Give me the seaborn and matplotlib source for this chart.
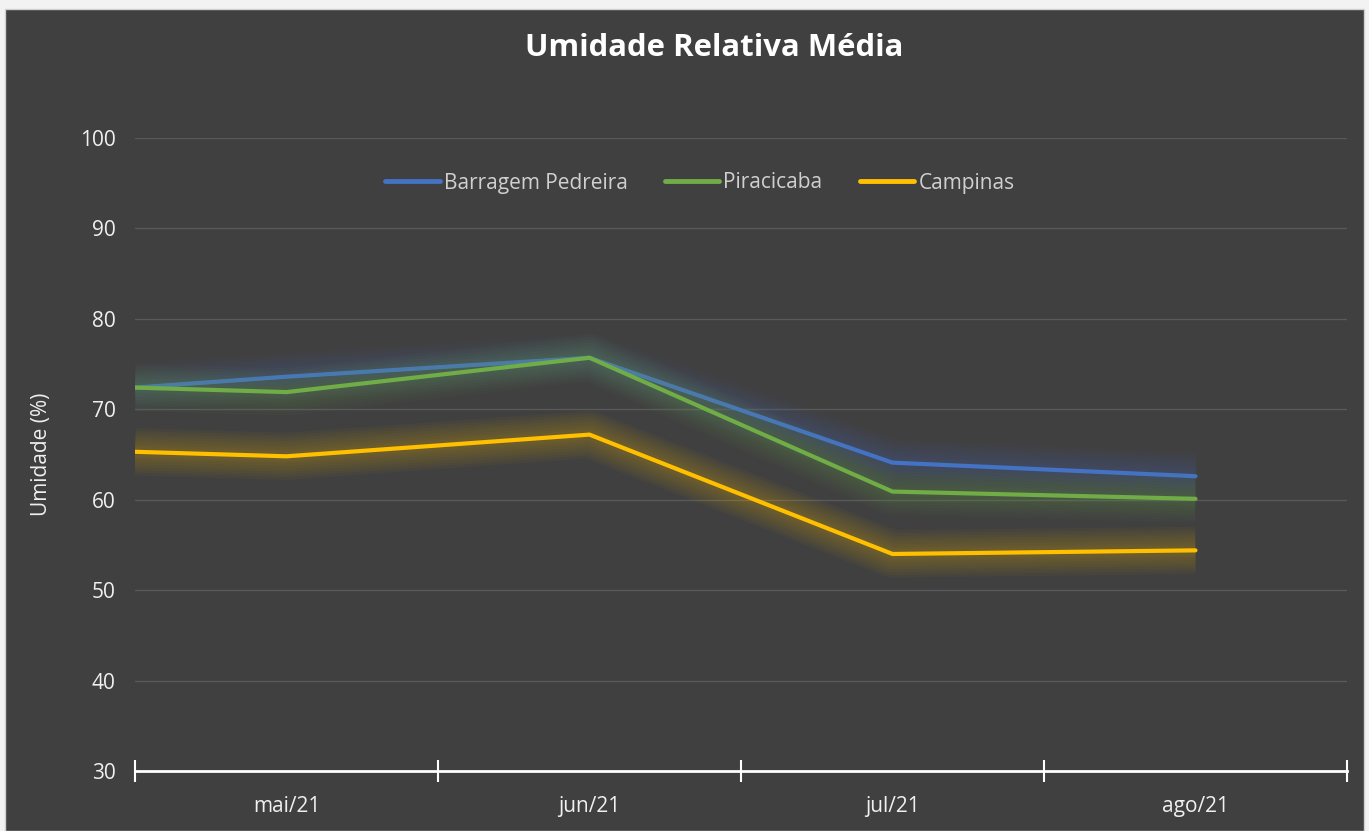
import matplotlib
matplotlib.use("Agg")
import matplotlib.pyplot as plt
import matplotlib.patheffects as pe
from matplotlib.patches import Rectangle
import pandas as pd
import seaborn as sns

# Monthly relative humidity readings (%)
dates = ["2021-05-01", "2021-05-16 12:00", "2021-06-16", "2021-07-16 12:00", "2021-08-16 12:00"]
barragem_pedreira = [72.4, 73.6, 75.7, 64.1, 62.6]
piracicaba = [72.4, 71.9, 75.7, 60.9, 60.1]
campinas = [65.3, 64.8, 67.2, 54.0, 54.4]
series_names = ["Barragem Pedreira", "Piracicaba", "Campinas"]
month_labels = ["mai/21", "jun/21", "jul/21", "ago/21"]
month_starts = ["2021-05-01", "2021-06-01", "2021-07-01", "2021-08-01", "2021-09-01"]

colors = ["#4472c4", "#70ad47", "#ffc000"]
bg = "#404040"
text_color = "#f0f0f0"


def month_position(ts):
    """Fractional month index relative to May 2021."""
    ts = pd.Timestamp(ts)
    start = ts.to_period("M").start_time
    end = (ts.to_period("M") + 1).start_time
    return (ts.year - 2021) * 12 + (ts.month - 5) + (ts - start) / (end - start)


xpos = [month_position(d) for d in dates]
df = pd.DataFrame({
    "mes": xpos * 3,
    "umidade": barragem_pedreira + piracicaba + campinas,
    "serie": [s for s in series_names for _ in dates],
})

sns.set_theme(style="dark")
plt.rcParams["font.family"] = ["Open Sans", "DejaVu Sans"]

fig = plt.figure(figsize=(13.69, 8.31), dpi=100, facecolor="#f2f2f2")
fig.patches.append(Rectangle((5 / 1369, 0), 1359 / 1369, 1 - 9 / 831,
                             transform=fig.transFigure, facecolor=bg,
                             edgecolor="#d0d0d0", linewidth=1, zorder=-10))

ax = fig.add_axes([135 / 1369, 1 - 771 / 831, 1212 / 1369, 633 / 831])
ax.set_facecolor(bg)

sns.lineplot(data=df, x="mes", y="umidade", hue="serie", hue_order=series_names,
             palette=colors, linewidth=3, ax=ax, legend=False, zorder=3)

# soft glow around each line
for line, c in zip(ax.get_lines(), colors):
    line.set_solid_capstyle("round")
    line.set_solid_joinstyle("round")
    effects = [pe.Stroke(linewidth=w, foreground=c, alpha=0.035, capstyle="butt")
               for w in (34, 30, 26, 22, 18, 14, 10, 7)]
    line.set_path_effects(effects + [pe.Normal()])

ax.set_xlim(0, len(month_labels))
ax.set_ylim(30, 100)
ax.set_yticks(range(30, 101, 10))
ax.yaxis.grid(True, color="#595959", linewidth=1)
ax.xaxis.grid(False)

starts = [month_position(m) for m in month_starts]
ax.set_xticks(starts)
ax.set_xticklabels([])
ax.set_xticks([s + 0.5 for s in starts[:-1]], minor=True)
ax.set_xticklabels(month_labels, minor=True)
ax.tick_params(axis="x", which="major", direction="inout", length=16, width=1.5,
               color="white", bottom=True)
ax.tick_params(axis="x", which="minor", length=0, pad=18, labelsize=15,
               labelcolor=text_color)
ax.tick_params(axis="y", length=0, pad=14, labelsize=15, labelcolor=text_color)

for s in ["left", "right", "top"]:
    ax.spines[s].set_visible(False)
ax.spines["bottom"].set_color("white")
ax.spines["bottom"].set_linewidth(2)

ax.set_xlabel("")
ax.set_ylabel("Umidade (%)", color=text_color, fontsize=15, labelpad=20)

fig.text(714 / 1369, 1 - 48 / 831, "Umidade Relativa Média",
         ha="center", va="center", fontsize=22.4, fontweight="bold", color="white")

handles = [plt.Line2D([], [], color=c, linewidth=3.5, solid_capstyle="round") for c in colors]
leg = ax.legend(handles, series_names, loc="center",
                bbox_to_anchor=((700 - 135) / 1212, 1 - 45 / 633),
                ncol=3, frameon=False, fontsize=15, handlelength=2.6, handletextpad=0.2,
                columnspacing=1.8)
for t in leg.get_texts():
    t.set_color("#d0d0d0")

fig.savefig("out.png", dpi=100, facecolor=fig.get_facecolor())
